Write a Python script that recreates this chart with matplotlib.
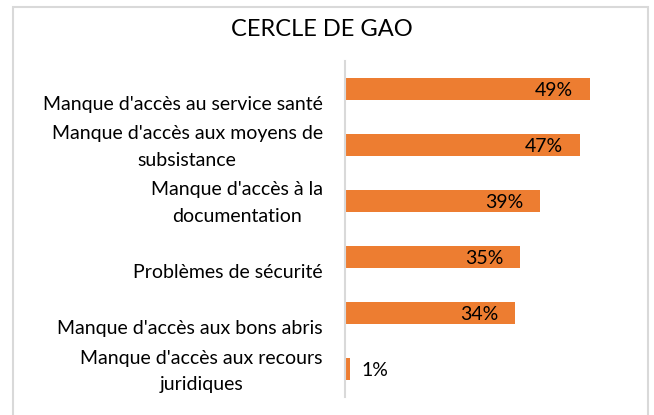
import matplotlib
matplotlib.use("Agg")
import matplotlib.pyplot as plt
from matplotlib.patches import Rectangle
from matplotlib.transforms import ScaledTranslation

# data, top to bottom as shown
categories = [
    "Manque d'accès au service santé",
    "Manque d'accès aux moyens de\nsubsistance",
    "Manque d'accès à la\ndocumentation",
    "Problèmes de sécurité",
    "Manque d'accès aux bons abris",
    "Manque d'accès aux recours\njuridiques",
]
values = [49, 47, 39, 35, 34, 1]
title = "CERCLE DE GAO"

W, H = 654, 415
ORANGE = "#ED7D31"
GRID = "#D9D9D9"
FONT = "Lato"
FS = 14

plt.rcParams["font.family"] = [FONT, "DejaVu Sans"]

fig = plt.figure(figsize=(W / 100, H / 100), dpi=100)
ax = fig.add_axes([345 / W, 18 / H, 295 / W, 336 / H])

pos = list(range(len(categories)))
ax.barh(pos, values, height=0.41, color=ORANGE)
ax.set_ylim(len(categories) - 0.5, -0.5)
ax.set_xlim(0, 59)

# Excel puts single-line labels one line lower
ticklabels = [c if "\n" in c else "\n" + c for c in categories]
ax.set_yticks(pos)
ax.set_yticklabels(ticklabels, fontsize=FS, multialignment="center",
                   linespacing=1.65)
ax.tick_params(axis="y", length=0, pad=16)
ax.set_xticks([])
nudge = ScaledTranslation(0, 4 / 100, fig.dpi_scale_trans)
for lbl in ax.get_yticklabels():
    lbl.set_transform(lbl.get_transform() + nudge)

for s in ["top", "right", "bottom"]:
    ax.spines[s].set_visible(False)
ax.spines["left"].set_color(GRID)
ax.spines["left"].set_linewidth(1.5)

for p, v in zip(pos, values):
    if v < 5:
        ax.annotate(f"{v}%", (v, p), xytext=(8, -1), textcoords="offset points",
                    ha="left", va="center", fontsize=FS)
    else:
        ax.annotate(f"{v}%", (v, p), xytext=(-12, -1), textcoords="offset points",
                    ha="right", va="center", fontsize=FS)

fig.text(322 / W, 1 - 30 / H, title, ha="center", va="center", fontsize=17)

# chart frame
fig.patches.append(Rectangle((13 / W, -0.05), (648 - 13) / W, 1.05 - 7 / H,
                             transform=fig.transFigure, fill=False,
                             edgecolor=GRID, linewidth=1.5))

fig.savefig("out.png", dpi=100)
